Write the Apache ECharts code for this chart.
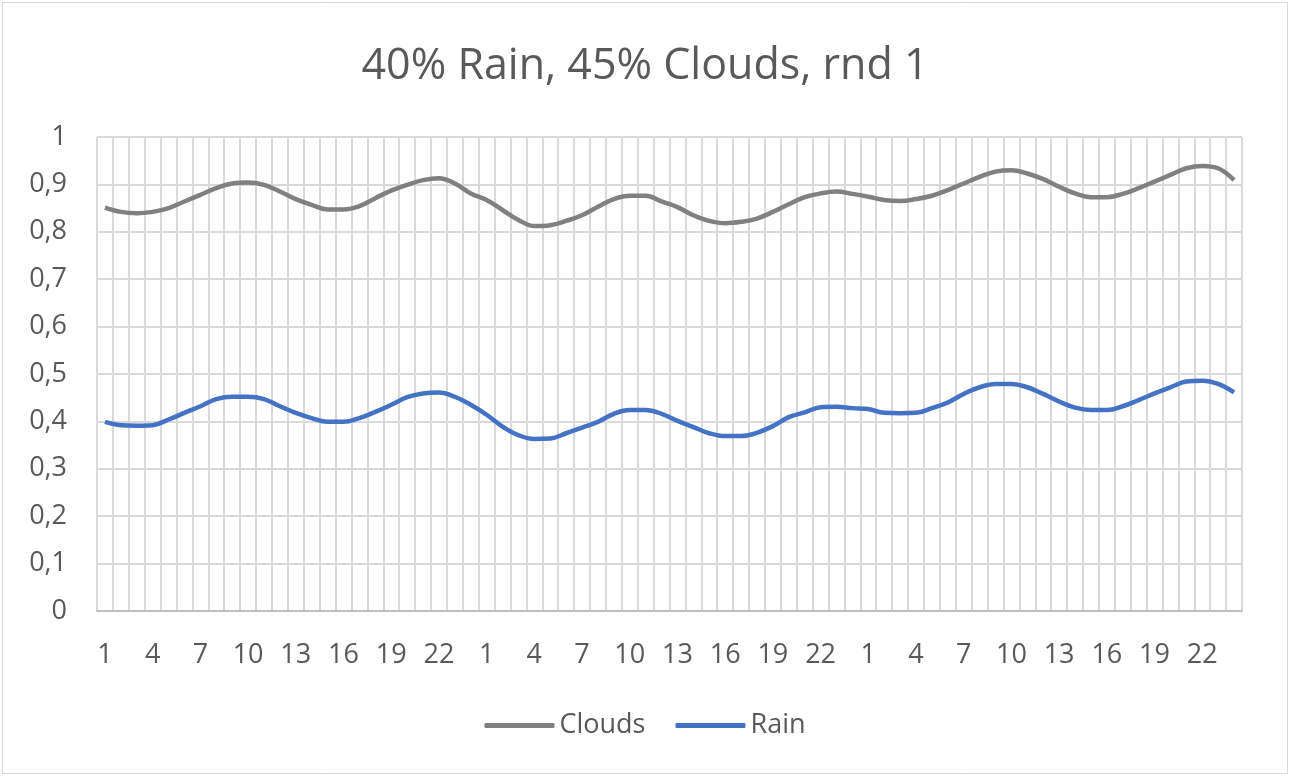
<!DOCTYPE html>
<html>
<head>
<meta charset="utf-8">
<script src="https://cdn.jsdelivr.net/npm/echarts@6/dist/echarts.min.js"></script>
<style>
html,body{margin:0;padding:0;background:#fff;}
#chart{width:1290px;height:776px;}
</style>
</head>
<body>
<div id="chart"></div>
<script>
const title = "40% Rain, 45% Clouds, rnd 1";
const hours = [];
for (let d = 0; d < 3; d++) for (let h = 1; h <= 24; h++) hours.push(String(h));
const yTicks = [0, 0.1, 0.2, 0.3, 0.4, 0.5, 0.6, 0.7, 0.8, 0.9, 1];
const clouds = [
  0.851, 0.842, 0.839, 0.842, 0.850, 0.864, 0.878, 0.892, 0.902, 0.904, 0.899, 0.885,
  0.869, 0.857, 0.847, 0.847, 0.854, 0.871, 0.887, 0.899, 0.909, 0.913, 0.902, 0.881,
  0.867, 0.846, 0.825, 0.812, 0.814, 0.823, 0.835, 0.853, 0.869, 0.876, 0.876, 0.864,
  0.852, 0.835, 0.823, 0.818, 0.821, 0.828, 0.842, 0.858, 0.873, 0.881, 0.885, 0.880,
  0.874, 0.867, 0.865, 0.869, 0.876, 0.888, 0.902, 0.916, 0.927, 0.930, 0.923, 0.911,
  0.895, 0.881, 0.873, 0.873, 0.880, 0.892, 0.906, 0.920, 0.934, 0.939, 0.934, 0.909
];
const rain = [
  0.399, 0.392, 0.391, 0.392, 0.404, 0.418, 0.432, 0.447, 0.452, 0.452, 0.447, 0.432,
  0.418, 0.407, 0.399, 0.399, 0.407, 0.420, 0.435, 0.451, 0.459, 0.461, 0.452, 0.435,
  0.414, 0.389, 0.371, 0.363, 0.364, 0.375, 0.387, 0.399, 0.416, 0.424, 0.424, 0.416,
  0.401, 0.388, 0.375, 0.369, 0.369, 0.376, 0.390, 0.409, 0.419, 0.430, 0.431, 0.428,
  0.426, 0.418, 0.417, 0.418, 0.428, 0.440, 0.458, 0.472, 0.479, 0.479, 0.472, 0.458,
  0.442, 0.429, 0.424, 0.424, 0.432, 0.445, 0.459, 0.472, 0.484, 0.486, 0.479, 0.461
];

const FONT = "'Open Sans', sans-serif";
const chart = echarts.init(document.getElementById('chart'));
chart.setOption({
  animation: false,
  backgroundColor: '#ffffff',
  title: {
    text: title,
    left: 'center',
    top: 40,
    textStyle: { fontFamily: FONT, fontSize: 43, fontWeight: 'normal', color: '#595959' }
  },
  legend: {
    bottom: 32,
    left: 'center',
    itemWidth: 70,
    itemHeight: 5,
    itemGap: 30,
    icon: 'roundRect',
    textStyle: { fontFamily: FONT, fontSize: 27, color: '#595959' },
    data: ['Clouds', 'Rain']
  },
  grid: { left: 97, right: 48, top: 137, bottom: 165, containLabel: false },
  xAxis: {
    type: 'category',
    data: hours,
    boundaryGap: true,
    axisLine: { lineStyle: { color: '#bfbfbf', width: 2 } },
    axisTick: { show: false },
    axisLabel: { interval: 2, margin: 31, fontFamily: FONT, fontSize: 27, color: '#595959' },
    splitLine: { show: true, interval: 0, lineStyle: { color: '#d9d9d9', width: 2 } }
  },
  yAxis: {
    type: 'value',
    min: 0,
    max: 1,
    interval: 0.1,
    axisLine: { show: false },
    axisTick: { show: false },
    axisLabel: {
      margin: 30,
      fontFamily: FONT, fontSize: 27, color: '#595959',
      formatter: v => String(Math.round(v * 10) / 10).replace('.', ',')
    },
    splitLine: { lineStyle: { color: '#d9d9d9', width: 2 } }
  },
  graphic: [{
    type: 'rect',
    shape: { x: 2.5, y: 2.5, width: 1285, height: 771 },
    style: { fill: 'none', stroke: '#d9d9d9', lineWidth: 1 },
    silent: true
  }],
  series: [
    {
      name: 'Clouds', type: 'line', data: clouds, smooth: 0.4, symbol: 'none',
      lineStyle: { color: '#808080', width: 4.5 }, itemStyle: { color: '#808080' }
    },
    {
      name: 'Rain', type: 'line', data: rain, smooth: 0.4, symbol: 'none',
      lineStyle: { color: '#4472c4', width: 4.5 }, itemStyle: { color: '#4472c4' }
    }
  ]
});
</script>
</body>
</html>
